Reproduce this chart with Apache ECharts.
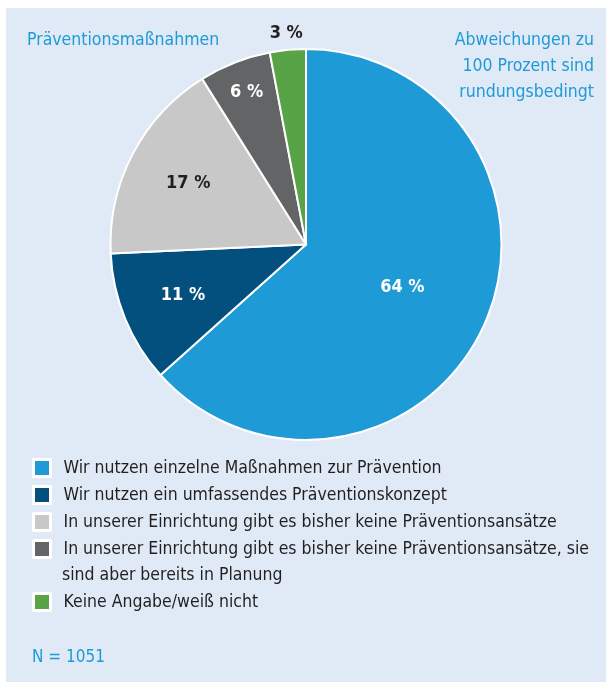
<!DOCTYPE html>
<html><head><meta charset="utf-8">
<script src="https://cdn.jsdelivr.net/npm/echarts@6/dist/echarts.min.js"></script>
<style>html,body{margin:0;padding:0;background:#fff}#c{width:606px;height:682px}</style>
</head><body><div id="c"></div>
<script>
// ---- data ----
const categories = [
  'Wir nutzen einzelne Maßnahmen zur Prävention',
  'Wir nutzen ein umfassendes Präventionskonzept',
  'In unserer Einrichtung gibt es bisher keine Präventionsansätze',
  'In unserer Einrichtung gibt es bisher keine Präventionsansätze, sie sind aber bereits in Planung',
  'Keine Angabe/weiß nicht'
];
const values = [64, 11, 17, 6, 3];
const valueLabels = ['64 %', '11 %', '17 %', '6 %', '3 %'];
const legendLines = [
  ['Wir nutzen einzelne Maßnahmen zur Prävention'],
  ['Wir nutzen ein umfassendes Präventionskonzept'],
  ['In unserer Einrichtung gibt es bisher keine Präventionsansätze'],
  ['In unserer Einrichtung gibt es bisher keine Präventionsansätze, sie', 'sind aber bereits in Planung'],
  ['Keine Angabe/weiß nicht']
];
const titleText = 'Präventionsmaßnahmen';
const noteLines = ['Abweichungen zu', '100 Prozent sind', 'rundungsbedingt'];
const sampleText = 'N = 1051';

// ---- style ----
const FONT = '"Liberation Sans Narrow", "DejaVu Sans Condensed", "Roboto Condensed", sans-serif';
const sliceColors = ['#1e9ad6', '#03507f', '#c8c8c8', '#636466', '#58a345'];
const labelColors = ['#ffffff', '#ffffff', '#231f20', '#ffffff', '#231f20'];
const BLUE = '#1e9ad6';
const TEXT = '#231f20';
const CENTER = [306, 244.5];
const R = 195.5;
const LEGEND_FS = 17.5;
const TITLE_FS = 17.5;

function pieData(showIdx) {
  return categories.map((name, i) => ({
    name: name,
    value: values[i],
    label: {
      show: showIdx.indexOf(i) >= 0,
      color: labelColors[i]
    }
  }));
}

function labelRing(r0, r1, showIdx) {
  return {
    type: 'pie',
    silent: true,
    center: CENTER,
    radius: [r0, r1],
    startAngle: 90,
    clockwise: true,
    avoidLabelOverlap: false,
    minShowLabelAngle: 0,
    itemStyle: { color: 'rgba(0,0,0,0)', borderWidth: 0 },
    emphasis: { disabled: true },
    labelLine: { show: false },
    label: {
      position: 'inside',
      fontFamily: FONT,
      fontWeight: 'bold',
      fontSize: 18,
      formatter: p => valueLabels[p.dataIndex]
    },
    data: pieData(showIdx),
    z: 3
  };
}

const legendCenters = [468, 495, 522, 549, 602];
const legends = categories.map((name, i) => ({
  data: [name],
  left: 32,
  top: legendCenters[i] - 11,
  orient: 'vertical',
  padding: 0,
  itemWidth: 17,
  itemHeight: 17,
  icon: 'rect',
  selectedMode: false,
  itemStyle: { borderColor: '#ffffff', borderWidth: 3 },
  formatter: () => legendLines[i][0],
  textStyle: {
    fontFamily: FONT,
    fontSize: LEGEND_FS,
    color: TEXT,
    lineHeight: 22,
    padding: [0, 0, 0, 8]
  }
}));

// continuation lines of wrapped legend entries
const legendExtra = [];
legendLines.forEach((lines, i) => {
  lines.slice(1).forEach((line, k) => {
    legendExtra.push({
      type: 'text',
      left: 62,
      top: legendCenters[i] + 26 * (k + 1) - 11,
      silent: true,
      style: { text: line, font: LEGEND_FS + 'px ' + FONT, fill: TEXT, lineHeight: 22 }
    });
  });
});

// right-aligned note, one element per line
const noteEls = noteLines.map((line, k) => ({
  type: 'text',
  right: 12,
  top: 27 + 26 * k,
  silent: true,
  style: { text: line, font: TITLE_FS + 'px ' + FONT, fill: BLUE, lineHeight: 26 }
}));

const chart = echarts.init(document.getElementById('c'), null, { renderer: 'canvas' });
chart.setOption({
  backgroundColor: '#ffffff',
  animation: false,
  color: sliceColors,
  graphic: [
    {
      type: 'rect',
      shape: { x: 6, y: 8, width: 600, height: 674 },
      style: { fill: '#dfeaf6' },
      silent: true,
      z: -10
    }
  ].concat(noteEls, legendExtra),
  title: [
    {
      text: titleText, left: 27, top: 27, padding: 0,
      textStyle: { fontFamily: FONT, fontWeight: 'normal', fontSize: TITLE_FS, lineHeight: 26, color: BLUE }
    },
    {
      text: sampleText, left: 32, top: 645, padding: 0,
      textStyle: { fontFamily: FONT, fontWeight: 'normal', fontSize: 17, lineHeight: 26, color: BLUE }
    }
  ],
  legend: legends,
  series: [
    {
      type: 'pie',
      center: CENTER,
      radius: R,
      startAngle: 90,
      clockwise: true,
      avoidLabelOverlap: false,
      itemStyle: { borderColor: '#ffffff', borderWidth: 2 },
      emphasis: { disabled: true },
      label: { show: false },
      labelLine: { show: false },
      data: categories.map((name, i) => ({ name: name, value: values[i] })),
      z: 2
    },
    labelRing(10, 195, [0]),
    labelRing(65, 195, [1, 2]),
    labelRing(125, 195, [3]),
    labelRing(195, 223, [4])
  ]
});
</script>
</body></html>
